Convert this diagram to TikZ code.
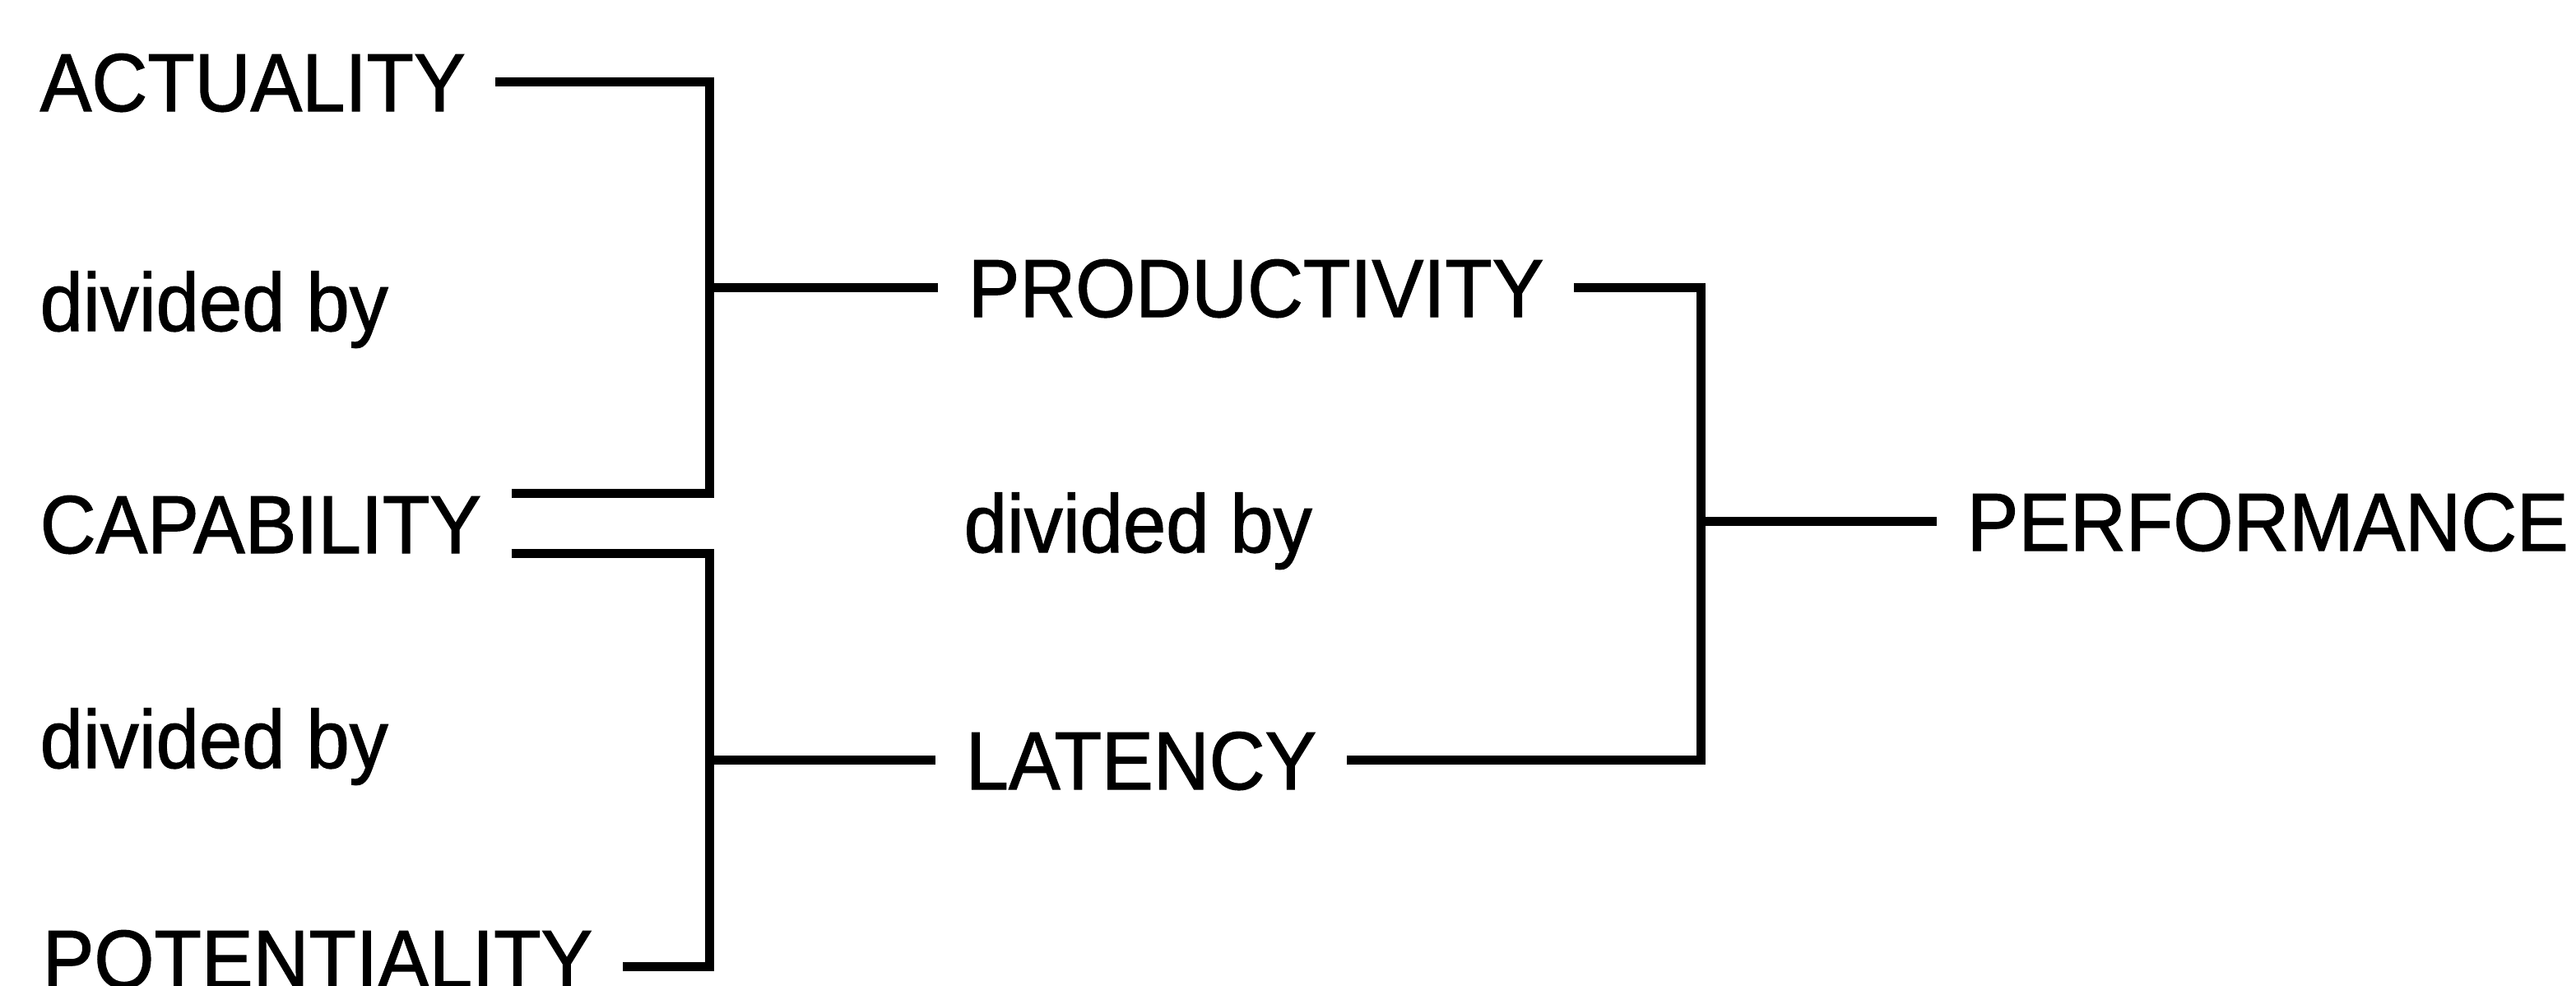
\documentclass[tikz,border=0pt]{standalone}
\usepackage{fontspec}
\newfontfamily\diagfont[FakeStretch=0.94,FakeBold=1.2]{Liberation Sans}
\begin{document}
\begin{tikzpicture}[
  lbl/.style={anchor=base west, inner xsep=0.36cm, inner ysep=0pt,
    text height=0.72cm, text depth=0cm,
    font=\diagfont\fontsize{28.45pt}{34pt}\selectfont},
  conn/.style={line width=0.11cm, line join=miter, line cap=butt}
]
\useasboundingbox (0,0) rectangle (31.31,-11.97);
\clip (0,0) rectangle (31.31,-11.97);

% left column
\node[lbl] (act) at (0.12,-1.35) {ACTUALITY};
\node[lbl] (d1)  at (0.12,-4.02) {divided by};
\node[lbl] (cap) at (0.12,-6.72) {CAPABILITY};
\node[lbl] (d2)  at (0.12,-9.33) {divided by};
\node[lbl] (pot) at (0.15,-12.00) {POTENTIALITY};

% middle column
\node[lbl] (prod) at (11.40,-3.85) {PRODUCTIVITY};
\node[lbl] (d3)   at (11.35,-6.71) {divided by};
\node[lbl] (lat)  at (11.37,-9.59) {LATENCY};

% right
\node[lbl] (perf) at (23.54,-6.69) {PERFORMANCE};

% bar positions and the end of the bottom branch
\coordinate (b1) at (8.62,0);
\coordinate (b2) at (20.67,0);
\coordinate (potend) at ([yshift=-0.1cm]pot.east);

% upper left bracket
\draw[conn] (act.east) -| (b1 |- cap.north east) -- (cap.north east);
\draw[conn] (prod.west) -- (prod.west -| b1);

% lower left bracket
\draw[conn] (cap.south east) -| (b1 |- potend) -- (potend);
\draw[conn] (lat.west) -- (lat.west -| b1);

% right bracket
\draw[conn] (prod.east) -| (b2 |- lat.east) -- (lat.east);
\draw[conn] (perf.west) -- (perf.west -| b2);
\end{tikzpicture}
\end{document}
